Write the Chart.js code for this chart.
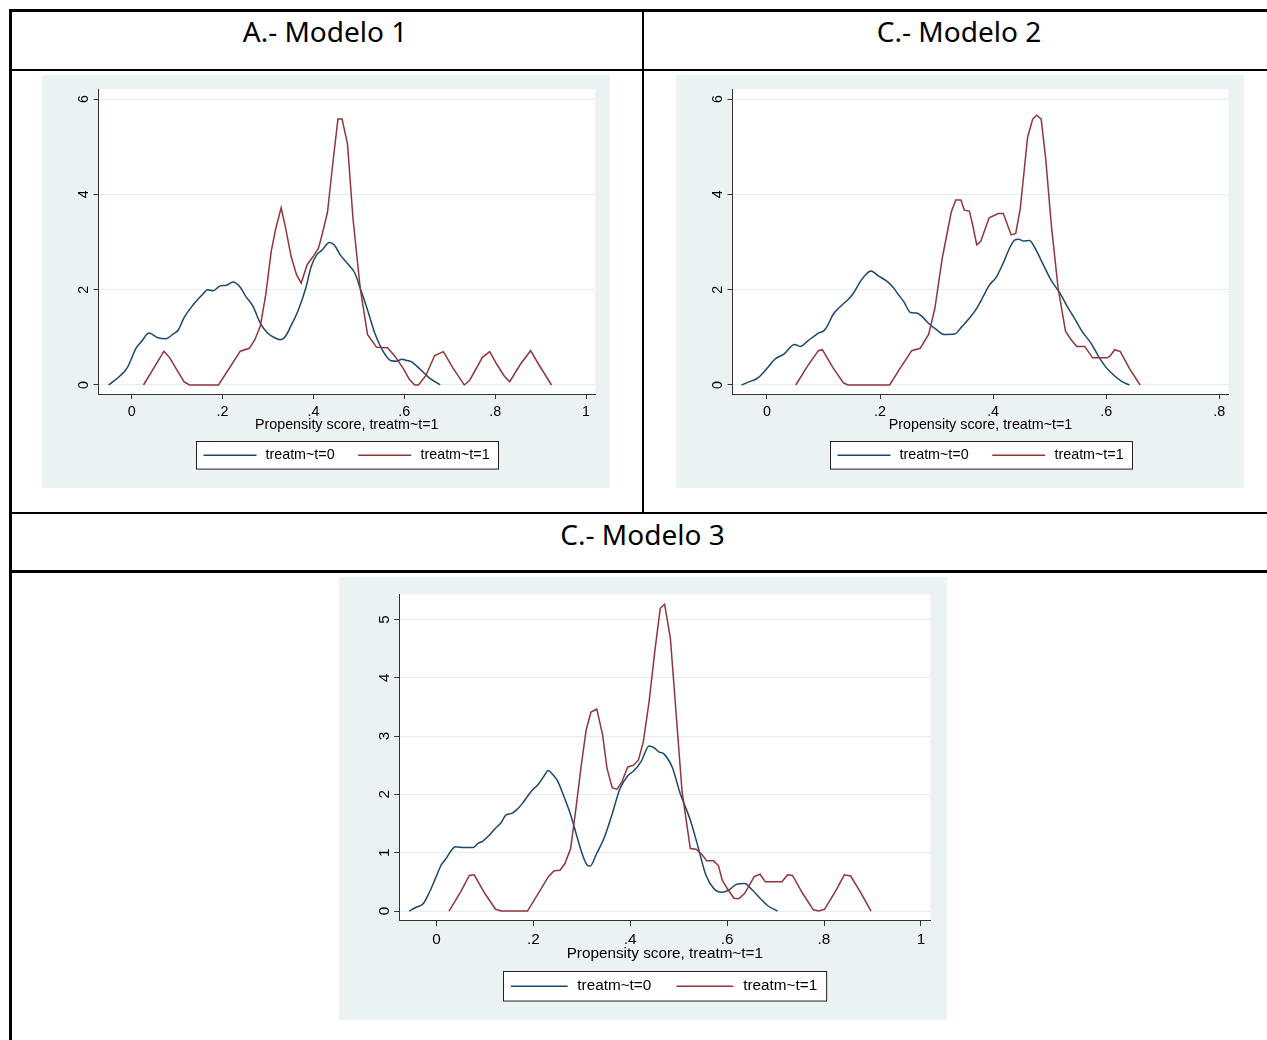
<!DOCTYPE html>
<html>
<head>
<meta charset="utf-8">
<title>Propensity score - Modelos</title>
<script src="https://cdn.jsdelivr.net/npm/chart.js@4.4.1/dist/chart.umd.min.js"></script>
<style>
  body { margin: 0; background: #fff; width: 1267px; height: 1040px; position: relative; overflow: hidden; font-family: "Noto Sans", sans-serif; }
  .ln { position: absolute; background: #000; }
  .ttl { position: absolute; text-align: center; font-size: 28px; line-height: 38px; color: #000; white-space: nowrap; }
  .panel { position: absolute; }
  .panel canvas { display: block; }
</style>
</head>
<body>

<!-- table rules -->
<div class="ln" style="left:9px;top:9px;width:1270px;height:2.5px"></div>
<div class="ln" style="left:9px;top:68.5px;width:1270px;height:2.5px"></div>
<div class="ln" style="left:9px;top:511.5px;width:1270px;height:2.5px"></div>
<div class="ln" style="left:9px;top:570px;width:1270px;height:2.5px"></div>
<div class="ln" style="left:9.2px;top:9px;width:2.5px;height:1040px"></div>
<div class="ln" style="left:641.8px;top:9px;width:2.5px;height:504px"></div>

<div class="ttl" style="left:11px;width:628px;top:12px">A.- Modelo 1</div>
<div class="ttl" style="left:644px;width:630px;top:12px">C.- Modelo 2</div>
<div class="ttl" style="left:11px;width:1263px;top:514.5px">C.- Modelo 3</div>

<div class="panel" style="left:42px;top:75px"><canvas id="m1" width="568" height="413"></canvas></div>
<div class="panel" style="left:676px;top:75px"><canvas id="m2" width="568" height="413"></canvas></div>
<div class="panel" style="left:339px;top:577px"><canvas id="m3" width="608" height="443"></canvas></div>

<script>
// ---- data ----
const seriesNames = ['treatm~t=0', 'treatm~t=1'];
const axisTitle = 'Propensity score, treatm~t=1';

// Modelo 1
const m1ScoreC = [-0.051,-0.026,-0.010,0.010,0.022,0.038,0.058,0.075,0.090,0.103,0.115,0.135,0.155,0.167,0.179,0.195,0.207,0.223,0.239,0.251,0.267,0.283,0.299,0.315,0.327,0.337,0.351,0.367,0.383,0.395,0.407,0.419,0.435,0.446,0.459,0.475,0.491,0.503,0.519,0.535,0.555,0.571,0.583,0.595,0.603,0.615,0.635,0.655,0.679];
const m1DensC  = [0,0.19,0.36,0.78,0.92,1.09,0.99,0.97,1.06,1.16,1.41,1.68,1.89,2.00,1.98,2.08,2.09,2.16,2.05,1.86,1.65,1.30,1.09,0.99,0.95,1.00,1.25,1.58,2.03,2.48,2.73,2.83,2.99,2.94,2.73,2.55,2.35,2.03,1.58,1.09,0.68,0.51,0.50,0.54,0.52,0.49,0.33,0.15,0];
const m1ScoreT = [0.026,0.071,0.083,0.115,0.127,0.191,0.239,0.259,0.271,0.283,0.295,0.307,0.317,0.329,0.339,0.351,0.363,0.373,0.386,0.399,0.411,0.419,0.431,0.443,0.454,0.463,0.475,0.487,0.503,0.519,0.539,0.563,0.579,0.599,0.611,0.623,0.631,0.647,0.667,0.686,0.707,0.732,0.744,0.772,0.788,0.804,0.820,0.832,0.856,0.878,0.896,0.924];
const m1DensT  = [0,0.71,0.58,0.07,0,0,0.71,0.77,0.95,1.23,1.89,2.80,3.28,3.72,3.28,2.69,2.31,2.14,2.52,2.69,2.87,3.15,3.63,4.68,5.58,5.58,5.06,3.50,2.03,1.06,0.79,0.78,0.61,0.33,0.12,0,0,0.19,0.62,0.70,0.36,0,0.10,0.58,0.70,0.43,0.19,0.07,0.44,0.72,0.43,0];

// Modelo 2
const m2ScoreC = [-0.045,-0.031,-0.020,-0.012,0.001,0.014,0.030,0.049,0.059,0.072,0.091,0.101,0.107,0.117,0.133,0.143,0.152,0.165,0.175,0.184,0.197,0.213,0.223,0.233,0.242,0.254,0.265,0.274,0.287,0.300,0.313,0.332,0.345,0.358,0.371,0.384,0.393,0.406,0.419,0.429,0.438,0.445,0.454,0.464,0.473,0.486,0.502,0.519,0.531,0.544,0.557,0.573,0.586,0.599,0.612,0.628,0.641];
const m2DensC  = [0,0.07,0.12,0.19,0.36,0.54,0.65,0.85,0.81,0.92,1.09,1.14,1.24,1.48,1.68,1.79,1.91,2.17,2.32,2.39,2.29,2.17,2.05,1.89,1.75,1.52,1.51,1.44,1.28,1.16,1.06,1.07,1.23,1.40,1.61,1.89,2.09,2.27,2.59,2.87,3.04,3.06,3.02,3.03,2.90,2.59,2.21,1.91,1.65,1.40,1.13,0.88,0.61,0.38,0.22,0.07,0];
const m2ScoreT = [0.051,0.072,0.091,0.098,0.117,0.135,0.143,0.217,0.236,0.256,0.271,0.286,0.297,0.310,0.326,0.334,0.343,0.349,0.358,0.364,0.371,0.378,0.393,0.409,0.418,0.432,0.440,0.448,0.461,0.470,0.477,0.485,0.493,0.503,0.515,0.528,0.538,0.548,0.562,0.576,0.589,0.602,0.607,0.615,0.625,0.641,0.660];
const m2DensT  = [0,0.40,0.72,0.74,0.36,0.05,0,0,0.36,0.72,0.77,1.06,1.61,2.66,3.63,3.88,3.88,3.67,3.65,3.35,2.94,3.01,3.51,3.60,3.60,3.15,3.18,3.70,5.20,5.58,5.66,5.58,4.75,3.35,2.03,1.13,0.95,0.81,0.81,0.57,0.57,0.57,0.61,0.74,0.70,0.35,0];

// Modelo 3
const m3ScoreC = [-0.056,-0.043,-0.027,-0.014,-0.002,0.010,0.020,0.030,0.039,0.058,0.076,0.086,0.096,0.109,0.122,0.133,0.144,0.154,0.165,0.178,0.190,0.200,0.210,0.221,0.231,0.240,0.250,0.262,0.277,0.291,0.303,0.311,0.317,0.331,0.347,0.363,0.379,0.395,0.407,0.423,0.439,0.449,0.459,0.470,0.487,0.503,0.524,0.540,0.556,0.572,0.588,0.604,0.620,0.636,0.652,0.668,0.684,0.704];
const m3DensC  = [0,0.06,0.13,0.33,0.56,0.79,0.90,1.03,1.10,1.09,1.09,1.16,1.20,1.30,1.42,1.51,1.65,1.67,1.73,1.85,1.99,2.09,2.17,2.30,2.41,2.34,2.23,1.99,1.65,1.25,0.93,0.79,0.77,0.99,1.27,1.67,2.10,2.32,2.40,2.57,2.83,2.80,2.73,2.69,2.46,2.02,1.56,1.10,0.62,0.39,0.32,0.36,0.46,0.47,0.36,0.22,0.09,0];
const m3ScoreT = [0.026,0.050,0.068,0.078,0.100,0.122,0.134,0.188,0.210,0.231,0.243,0.255,0.265,0.277,0.288,0.299,0.309,0.319,0.331,0.343,0.352,0.363,0.373,0.383,0.395,0.407,0.417,0.427,0.439,0.451,0.462,0.471,0.483,0.495,0.507,0.524,0.536,0.548,0.558,0.572,0.582,0.590,0.600,0.614,0.624,0.636,0.656,0.668,0.679,0.696,0.713,0.725,0.735,0.756,0.778,0.789,0.801,0.823,0.842,0.855,0.877,0.897];
const m3DensT  = [0,0.33,0.61,0.62,0.30,0.03,0,0,0.30,0.59,0.69,0.70,0.81,1.07,1.76,2.50,3.10,3.41,3.46,3.02,2.45,2.11,2.09,2.22,2.47,2.50,2.59,2.90,3.59,4.47,5.19,5.26,4.67,3.36,2.05,1.07,1.06,0.97,0.86,0.86,0.78,0.53,0.39,0.22,0.21,0.30,0.59,0.63,0.50,0.50,0.50,0.62,0.61,0.30,0.02,0,0.03,0.33,0.62,0.60,0.30,0];

// ticks
const xTicks1 = [0, 0.2, 0.4, 0.6, 0.8, 1];
const xLabels1 = ['0', '.2', '.4', '.6', '.8', '1'];
const xTicks2 = [0, 0.2, 0.4, 0.6, 0.8];
const xLabels2 = ['0', '.2', '.4', '.6', '.8'];
const yTicks12 = [0, 2, 4, 6];
const yTicks3 = [0, 1, 2, 3, 4, 5];

const navy = '#1a476f';
const maroon = '#90353b';
const FONT = '"Liberation Sans", Arial, sans-serif';

function pairs(xs, ys) {
  return xs.map((x, i) => ({ x: x, y: ys[i] }));
}

// Stata-like background: bluish graph region, white plot region
const panelBg = {
  id: 'panelBg',
  beforeDraw(chart) {
    const { ctx, chartArea: a } = chart;
    ctx.save();
    ctx.fillStyle = '#eaf2f3';
    ctx.fillRect(0, 0, chart.width, chart.height);
    ctx.fillStyle = '#ffffff';
    ctx.fillRect(a.left, a.top, a.right - a.left, a.bottom - a.top);
    ctx.restore();
  }
};

// x title + boxed key under the plot
const stataKey = {
  id: 'stataKey',
  afterDraw(chart, args, o) {
    const { ctx, chartArea: a } = chart;
    const k = o.k;
    const cx = (a.left + a.right) / 2;
    ctx.save();
    ctx.font = o.size + 'px ' + FONT;
    ctx.fillStyle = '#000';
    ctx.textBaseline = 'middle';
    ctx.textAlign = 'center';
    ctx.fillText(o.title, cx, a.bottom + 31 * k);

    const w = 302 * k, h = 27.6 * k;
    const bx = Math.round(cx - w / 2) + 0.5, by = Math.round(a.bottom + 46.7 * k) + 0.5;
    ctx.fillStyle = '#fff';
    ctx.fillRect(bx, by, w, h);
    ctx.strokeStyle = '#222';
    ctx.lineWidth = 1;
    ctx.strokeRect(bx, by, w, h);

    const my = by + h / 2;
    const slots = [[7, 69], [161.7, 224]];
    chart.data.datasets.forEach(ds => {
      const s = slots[ds.keyPos];
      ctx.strokeStyle = ds.borderColor;
      ctx.lineWidth = 1.5;
      ctx.beginPath();
      ctx.moveTo(bx + s[0] * k, my);
      ctx.lineTo(bx + (s[0] + 53) * k, my);
      ctx.stroke();
      ctx.fillStyle = '#000';
      ctx.textAlign = 'left';
      ctx.fillText(ds.label, bx + s[1] * k, my);
    });
    ctx.restore();
  }
};

function makeChart(id, cfg) {
  const k = cfg.k;
  const font = { family: FONT, size: cfg.font };
  return new Chart(document.getElementById(id), {
    type: 'scatter',
    data: {
      datasets: [
        { label: seriesNames[1], data: pairs(cfg.xt, cfg.yt), borderColor: maroon, backgroundColor: maroon,
          borderWidth: 1.5, showLine: true, pointRadius: 0, tension: 0, keyPos: 1 },
        { label: seriesNames[0], data: pairs(cfg.xc, cfg.yc), borderColor: navy, backgroundColor: navy,
          borderWidth: 1.5, showLine: true, pointRadius: 0, cubicInterpolationMode: 'monotone', keyPos: 0 }
      ]
    },
    options: {
      responsive: false,
      animation: false,
      events: [],
      layout: { padding: cfg.pad },
      plugins: {
        legend: { display: false },
        tooltip: { enabled: false },
        stataKey: { k: k, size: cfg.font, title: axisTitle }
      },
      scales: {
        x: {
          type: 'linear', min: cfg.xmin, max: cfg.xmax,
          afterBuildTicks: s => { s.ticks = cfg.xticks.map(v => ({ value: v })); },
          afterFit: s => { s.height = 30; },
          grid: { drawOnChartArea: false, tickLength: 5 * k, tickColor: '#333', tickWidth: 1 },
          border: { color: '#333', width: 1 },
          ticks: { callback: (v, i) => cfg.xlabels[i], autoSkip: false, minRotation: 0, maxRotation: 0,
                   padding: 4.4, color: '#000', font: font }
        },
        y: {
          type: 'linear', min: cfg.ymin, max: cfg.ymax,
          afterBuildTicks: s => { s.ticks = cfg.yticks.map(v => ({ value: v })); },
          afterFit: s => { s.width = cfg.yw; },
          grid: { color: '#e4edef', lineWidth: 1, tickLength: 5 * k, tickColor: '#333', tickWidth: 1 },
          border: { color: '#333', width: 1 },
          ticks: { callback: v => String(v), minRotation: 90, maxRotation: 90, crossAlign: 'center',
                   padding: 5.5, color: '#000', font: font }
        }
      }
    },
    plugins: [panelBg, stataKey]
  });
}

makeChart('m1', {
  k: 1, font: 14.3, yw: 56.5,
  pad: { left: 0, right: 15, top: 14, bottom: 64 },
  xmin: -0.0731, xmax: 1.0198, ymin: -0.189, ymax: 6.21,
  xticks: xTicks1, xlabels: xLabels1, yticks: yTicks12,
  xc: m1ScoreC, yc: m1DensC, xt: m1ScoreT, yt: m1DensT
});

makeChart('m2', {
  k: 1, font: 14.3, yw: 56.5,
  pad: { left: 0, right: 15.5, top: 14, bottom: 64 },
  xmin: -0.0609, xmax: 0.8163, ymin: -0.189, ymax: 6.21,
  xticks: xTicks2, xlabels: xLabels2, yticks: yTicks12,
  xc: m2ScoreC, yc: m2DensC, xt: m2ScoreT, yt: m2DensT
});

makeChart('m3', {
  k: 1.07, font: 15.3, yw: 60.5,
  pad: { left: 0, right: 16.8, top: 17.3, bottom: 69.3 },
  xmin: -0.0762, xmax: 1.0192, ymin: -0.166, ymax: 5.43,
  xticks: xTicks1, xlabels: xLabels1, yticks: yTicks3,
  xc: m3ScoreC, yc: m3DensC, xt: m3ScoreT, yt: m3DensT
});
</script>
</body>
</html>
